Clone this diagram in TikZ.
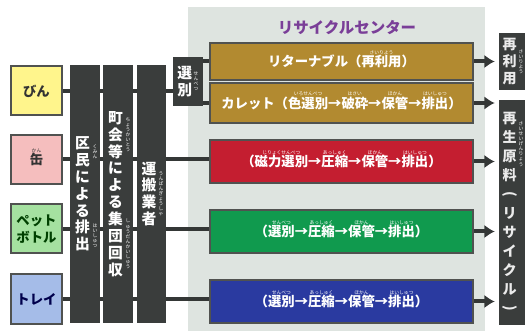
\documentclass[tikz,border=0pt]{standalone}
\usepackage{fontspec}
\setmainfont{Noto Sans CJK JP}
\usepackage{graphicx}
\usepackage{tikz}
\usetikzlibrary{arrows.meta}
\pgfdeclarelayer{back}
\pgfdeclarelayer{links}
\pgfsetlayers{back,links,main}

\definecolor{bardark}{RGB}{58,61,60}
\definecolor{linedark}{RGB}{52,55,54}
\definecolor{boxline}{RGB}{80,82,80}
\definecolor{centerbg}{RGB}{222,228,224}
\definecolor{binyellow}{RGB}{255,245,140}
\definecolor{kanpink}{RGB}{245,190,190}
\definecolor{petgreen}{RGB}{165,225,160}
\definecolor{trayblue}{RGB}{165,188,232}
\definecolor{gold}{RGB}{178,138,48}
\definecolor{redrow}{RGB}{196,30,48}
\definecolor{greenrow}{RGB}{16,154,78}
\definecolor{bluerow}{RGB}{42,58,160}
\definecolor{titlepurple}{RGB}{122,62,152}

% vertical text: one character per line
\makeatletter
\newcommand\vstack[1]{\vbox{\@tfor\vch:=#1\do{\hbox to 1.05em{\hss\vch\hss}}}}
\makeatother
\newcommand\vparen[1]{\rotatebox[origin=c]{-90}{#1}}
% furigana over a word
\newcommand\rbfont{\fontsize{3.4}{3.6}\selectfont\mdseries}
\newsavebox\rbbox
\newcommand\rb[2]{\leavevmode\sbox\rbbox{#1}\rlap{\makebox[\wd\rbbox]{\raisebox{\dimexpr\ht\rbbox+0.6pt}[0pt][0pt]{\rbfont#2}}}\usebox\rbbox}

\tikzstyle{item} = [draw=boxline, line width=0.5mm, rectangle, minimum width=12.75mm, minimum height=12.25mm, inner sep=0pt, align=center, font=\fontsize{9.5}{12.5}\selectfont\bfseries]
\tikzstyle{bar} = [fill=bardark, rectangle, inner sep=0pt, minimum height=64.5mm, text=white, font=\fontsize{10.5}{12}\selectfont\bfseries]
\tikzstyle{stage} = [draw=boxline, line width=0.3mm, rectangle, minimum width=65.75mm, inner sep=0pt, text=white, font=\fontsize{9.5}{11}\selectfont\bfseries]
\tikzstyle{result} = [fill=bardark, rectangle, inner sep=0pt, minimum width=6.5mm, text=white!92!black, font=\fontsize{10}{12}\selectfont\bfseries]
\tikzstyle{ruby} = [inner sep=0pt, text=white, font=\rbfont]
\tikzstyle{link} = [draw=linedark, line width=1mm]
\tikzstyle{arrowlink} = [link, -{Latex[length=2.6mm,width=3.4mm]}, shorten >=1mm]

\begin{document}
\begin{tikzpicture}[x=0.25mm,y=-0.25mm]
		\useasboundingbox (0,0) rectangle (526,331);
		\begin{pgfonlayer}{back}
			\fill[centerbg] (188,7) rectangle (485,331);
		\end{pgfonlayer}
		\node (title) [font=\fontsize{11}{13}\selectfont\bfseries, text=titlepurple] at (347,28) {リサイクルセンター};
		
		% what is put out
		\node (bin) [item, fill=binyellow, text=black!80] at (36.5,91) {びん};
		\node (kan) [item, fill=kanpink, text=black!80] at (36.5,159.5) {\rb{缶}{かん}};
		\node (pet) [item, fill=petgreen, text=green!25!black] at (36.5,229) {ペット\\ボトル};
		\node (tray) [item, fill=trayblue, text=blue!30!black] at (36.5,299) {トレイ};
		
		% collection
		\node (kumin) [bar, minimum width=7.5mm] at (85,194) {\vstack{区民による排出}\hspace*{1.2mm}};
		\node (chokai) [bar, minimum width=7.5mm] at (118,194) {\vstack{町会等による集団回収}\hspace*{1.2mm}};
		\node (unpan) [bar, minimum width=7.25mm] at (151.5,194) {\vstack{運搬業者}\hspace*{1.2mm}};
		\node (senbetsu) [bar, minimum width=7.5mm, minimum height=12.25mm] at (188,81.5) {\vstack{選別}\hspace*{1.6mm}};
		\node [ruby] at (95,152) {\vstack{くみん}};
		\node [ruby] at (95,236) {\vstack{はいしゅつ}};
		\node [ruby] at (128,135) {\vstack{ちょうかいとう}};
		\node [ruby] at (128,244) {\vstack{しゅうだんかいしゅう}};
		\node [ruby] at (161,194) {\vstack{うんぱんぎょうしゃ}};
		\node [ruby] at (196,81.5) {\vstack{せんべつ}};
		
		% recycle center
		\node (returnable) [stage, fill=gold, minimum height=9.25mm] at (341.5,61.5) {リターナブル（\rb{再利用}{さいりよう}）};
		\node (cullet) [stage, fill=gold, minimum height=10mm] at (341.5,103) {カレット（\rb{色選別}{いろせんべつ}→\rb{破砕}{はさい}→\rb{保管}{ほかん}→\rb{排出}{はいしゅつ}）};
		\node (canline) [stage, fill=redrow, minimum height=10.75mm] at (341.5,161.5) {（\rb{磁力選別}{じりょくせんべつ}→\rb{圧縮}{あっしゅく}→\rb{保管}{ほかん}→\rb{排出}{はいしゅつ}）};
		\node (petline) [stage, fill=greenrow, minimum height=10.75mm] at (341.5,231.5) {（\rb{選別}{せんべつ}→\rb{圧縮}{あっしゅく}→\rb{保管}{ほかん}→\rb{排出}{はいしゅつ}）};
		\node (trayline) [stage, fill=bluerow, minimum height=10.75mm] at (341.5,301.5) {（\rb{選別}{せんべつ}→\rb{圧縮}{あっしゅく}→\rb{保管}{ほかん}→\rb{排出}{はいしゅつ}）};
		
		% what comes out
		\node (reuse) [result, minimum height=14.25mm] at (512,61.5) {\vstack{再利用}\hspace*{1.2mm}};
		\node (recycle) [result, minimum height=56.25mm, font=\fontsize{10}{13.5}\selectfont\bfseries] at (512,212.5) {\vstack{再生原料{\vparen{(}}リサイクル{\vparen{)}}}\hspace*{1.2mm}};
		\node [ruby] at (521,61.5) {\vstack{さいりよう}};
		\node [ruby] at (521,144) {\vstack{さいせいげんりょう}};
		
		\begin{pgfonlayer}{links}
			\draw[link] (bin.east) -- (bin.east -| senbetsu.west);
			\draw[link] (senbetsu.east |- returnable.west) -- (returnable.west);
			\draw[link] (senbetsu.east |- cullet.west) -- (cullet.west);
			\draw[link] (kan.east) -- (kan.east -| canline.west);
			\draw[link] (pet.east) -- (pet.east -| petline.west);
			\draw[link] (tray.east) -- (tray.east -| trayline.west);
			\draw[arrowlink] (returnable.east) -- (returnable.east -| reuse.west);
			\draw[arrowlink] (cullet.east) -- (cullet.east -| recycle.west);
			\draw[arrowlink] (canline.east) -- (canline.east -| recycle.west);
			\draw[arrowlink] (petline.east) -- (petline.east -| recycle.west);
			\draw[arrowlink] (trayline.east) -- (trayline.east -| recycle.west);
		\end{pgfonlayer}
	\end{tikzpicture}
\end{document}
